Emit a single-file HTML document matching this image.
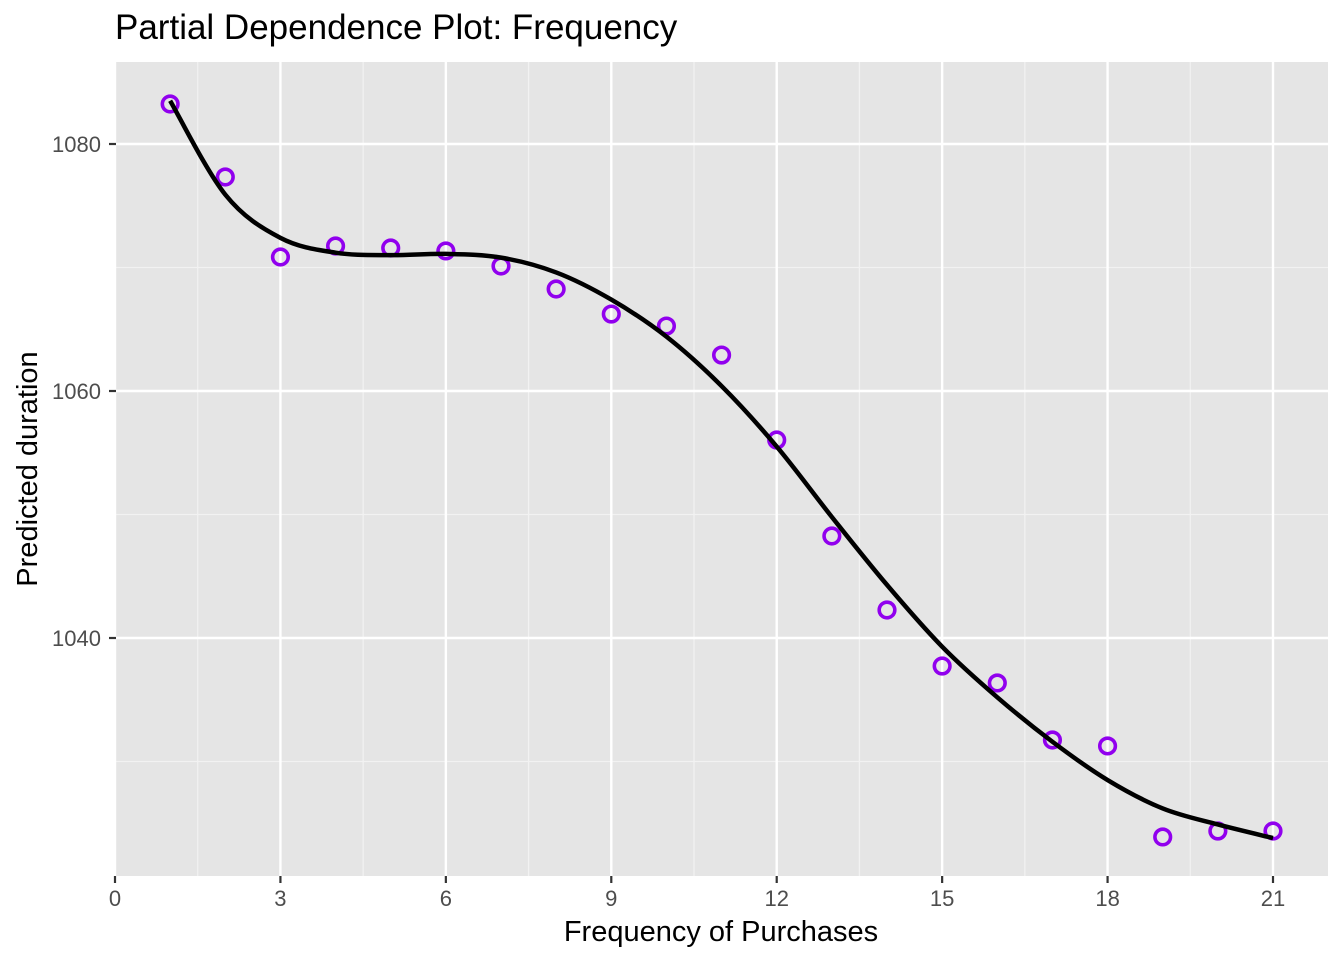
<!DOCTYPE html>
<html><head><meta charset="utf-8"><style>
html,body{margin:0;padding:0;background:#fff;}
svg{display:block;font-family:"Liberation Sans",Arial,sans-serif;}
</style></head><body>
<svg id="chart" width="1344" height="960" viewBox="0 0 1344 960">
<text x="115" y="39" font-size="35" fill="#000">Partial Dependence Plot: Frequency</text>
<rect x="116" y="62" width="1212" height="814" fill="#e5e5e5"/>
<g id="grid"></g>
<g id="axes"></g>
<g id="marks"></g>
<text x="721" y="941" font-size="29" text-anchor="middle" fill="#000">Frequency of Purchases</text>
<text transform="translate(37,469) rotate(-90)" font-size="29" text-anchor="middle" fill="#000">Predicted duration</text>
</svg>
<script>
const xValues = [1,2,3,4,5,6,7,8,9,10,11,12,13,14,15,16,17,18,19,20,21];
const pointValues = [1083.24,1077.33,1070.85,1071.74,1071.58,1071.34,1070.12,1068.26,1066.23,1065.26,1062.91,1056.03,1048.26,1042.27,1037.73,1036.36,1031.74,1031.26,1023.89,1024.37,1024.37];
const smoothValues = [1083.5,1075.9,1072.4,1071.2,1071.0,1071.1,1070.8,1069.6,1067.4,1064.4,1060.4,1055.5,1049.8,1044.3,1039.3,1035.2,1031.6,1028.5,1026.2,1024.9,1023.8];
const xTicks = [0,3,6,9,12,15,18,21];
const xMinor = [1.5,4.5,7.5,10.5,13.5,16.5,19.5];
const yTicks = [1040,1060,1080];
const yMinor = [1030,1050,1070];

const X0=116,X1=1328,Y0=62,Y1=876;
const xs = v => 115 + v*(1273-115)/21;
const ys = v => 144 + (1080-v)*(247/20);
const NS="http://www.w3.org/2000/svg";
function mk(tag, attrs, parent){const e=document.createElementNS(NS,tag);for(const k in attrs)e.setAttribute(k,attrs[k]);parent.appendChild(e);return e;}
const grid=document.getElementById('grid'), axes=document.getElementById('axes'), marks=document.getElementById('marks');

xMinor.forEach(v=>{const l=mk('line',{x1:xs(v),x2:xs(v),y1:Y0,y2:Y1,stroke:'#f2f2f2','stroke-width':1.2},grid);

});
yMinor.forEach(v=>{const l=mk('line',{x1:X0,x2:X1,y1:ys(v),y2:ys(v),stroke:'#f2f2f2','stroke-width':1.2},grid);

});
xTicks.forEach(v=>{const l=mk('line',{x1:xs(v),x2:xs(v),y1:Y0,y2:Y1,stroke:'#fff','stroke-width':2.4},grid);


const t=mk('line',{x1:xs(v),x2:xs(v),y1:Y1,y2:Y1+7,stroke:'#333','stroke-width':2.2},axes);


const tx=mk('text',{x:xs(v),y:906,'font-size':22,'text-anchor':'middle',fill:'#4d4d4d'},axes);tx.textContent=v;

});
yTicks.forEach(v=>{const l=mk('line',{x1:X0,x2:X1,y1:ys(v),y2:ys(v),stroke:'#fff','stroke-width':2.4},grid);


const t=mk('line',{x1:X0-7,x2:X0,y1:ys(v),y2:ys(v),stroke:'#333','stroke-width':2.2},axes);


const tx=mk('text',{x:X0-15,y:ys(v)+8,'font-size':22,'text-anchor':'end',fill:'#4d4d4d'},axes);tx.textContent=v;

});

const P=xValues.map((x,i)=>[xs(x),ys(smoothValues[i])]);
let d=`M${P[0][0]},${P[0][1]}`;
for(let i=0;i<P.length-1;i++){const p0=P[Math.max(0,i-1)],p1=P[i],p2=P[i+1],p3=P[Math.min(P.length-1,i+2)];
d+=` C${p1[0]+(p2[0]-p0[0])/6},${p1[1]+(p2[1]-p0[1])/6} ${p2[0]-(p3[0]-p1[0])/6},${p2[1]-(p3[1]-p1[1])/6} ${p2[0]},${p2[1]}`;}
pointValues.forEach((v,i)=>{const c=mk('circle',{cx:xs(xValues[i]),cy:ys(v),r:7.8,fill:'none',stroke:'#9100ee','stroke-width':3.6},marks);

});
const path=mk('path',{d:d,fill:'none',stroke:'#000','stroke-width':4.5},marks);


</script>
</body></html>
